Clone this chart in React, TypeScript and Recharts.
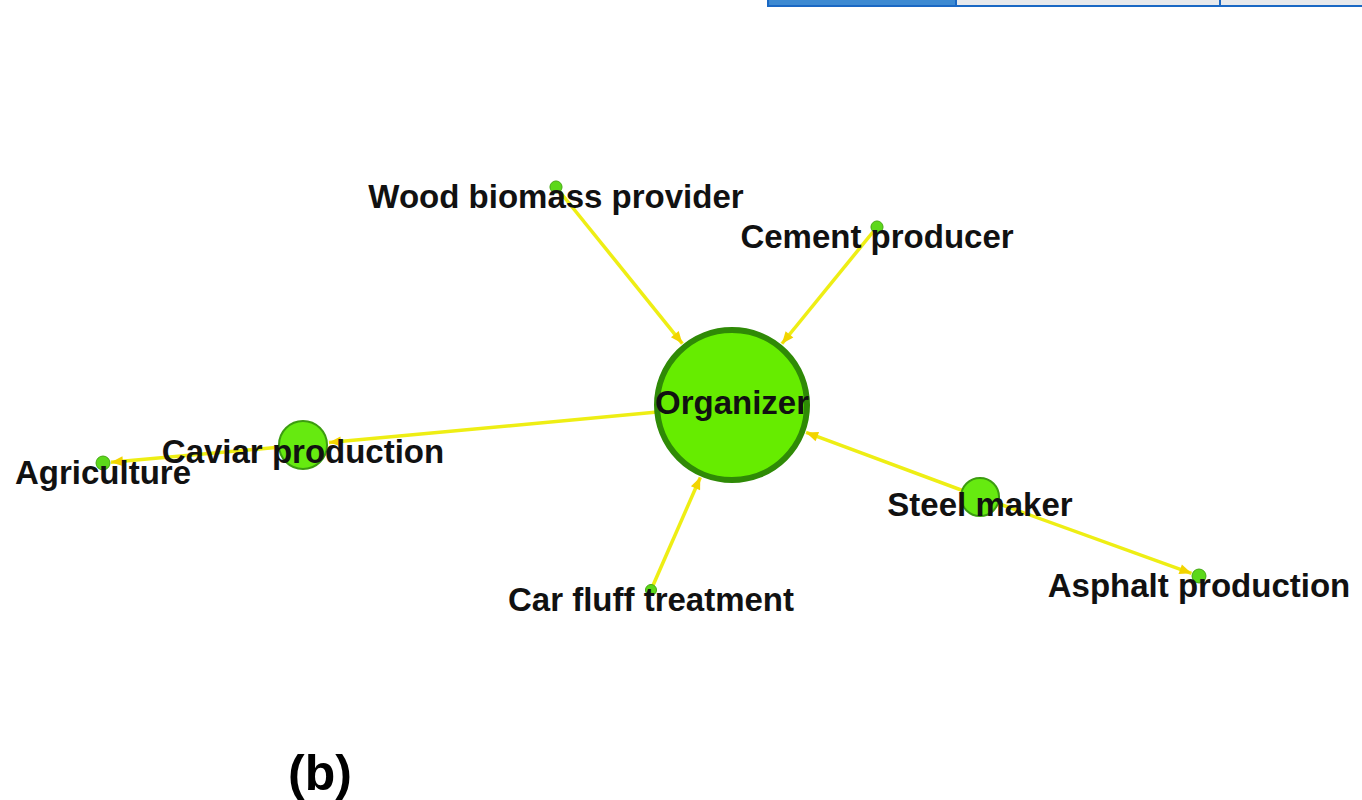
import { ScatterChart, Scatter, XAxis, YAxis, ZAxis, ReferenceLine } from "recharts";

// network layout (layout units = pixels of the original figure)
const nodeNames = [
  "Organizer",
  "Wood biomass provider",
  "Cement producer",
  "Caviar production",
  "Agriculture",
  "Car fluff treatment",
  "Steel maker",
  "Asphalt production",
];
const nodeX = [732, 556, 877, 303, 103, 651, 980, 1199];
const nodeY = [405, 187, 227, 445, 463, 590, 497, 576];
const nodeWeight = [100, 0.6, 0.6, 10.3, 0.8, 0.5, 6.6, 0.8];

const edgeFrom = [
  "Wood biomass provider",
  "Cement producer",
  "Organizer",
  "Caviar production",
  "Car fluff treatment",
  "Steel maker",
  "Steel maker",
];
const edgeTo = [
  "Organizer",
  "Organizer",
  "Caviar production",
  "Agriculture",
  "Organizer",
  "Organizer",
  "Asphalt production",
];

const Z_DOMAIN: [number, number] = [0, 100];
const Z_RANGE: [number, number] = [0, 19113];

const nodes = nodeNames.map((name, i) => ({ name, x: nodeX[i], y: nodeY[i], weight: nodeWeight[i] }));
const byName = (n: string) => nodes[nodeNames.indexOf(n)];

// same mapping as the ZAxis (area -> radius), used to stop arrows at the node rim
const radiusOf = (w: number) => {
  const area = Z_RANGE[0] + ((w - Z_DOMAIN[0]) / (Z_DOMAIN[1] - Z_DOMAIN[0])) * (Z_RANGE[1] - Z_RANGE[0]);
  return Math.sqrt(area / Math.PI);
};

const makeEdge = (gap: number) => (props: any) => {
  const { x1, y1, x2, y2 } = props;
  const dx = x2 - x1;
  const dy = y2 - y1;
  const len = Math.hypot(dx, dy) || 1;
  const ux = dx / len;
  const uy = dy / len;
  const tx = x2 - ux * gap;
  const ty = y2 - uy * gap;
  const bx = tx - ux * 12;
  const by = ty - uy * 12;
  const px = -uy * 5;
  const py = ux * 5;
  return (
    <g>
      <line x1={x1} y1={y1} x2={tx} y2={ty} stroke="#eeee14" strokeWidth={3.5} />
      <polygon
        points={`${tx},${ty} ${bx + px},${by + py} ${bx - px},${by - py}`}
        fill="#f2d400"
      />
    </g>
  );
};

const NodeShape = (props: any) => {
  const { cx, cy, size, width } = props;
  const r = width ? width / 2 : Math.sqrt((size || 0) / Math.PI);
  if (r > 40) {
    return <circle cx={cx} cy={cy} r={r - 3} fill="#66ec00" stroke="#2f8a06" strokeWidth={6} />;
  }
  if (r > 12) {
    return <circle cx={cx} cy={cy} r={r - 1} fill="#66ea10" stroke="#3c9c10" strokeWidth={2} />;
  }
  return <circle cx={cx} cy={cy} r={r} fill="#5cd81a" stroke="#45a812" strokeWidth={1} />;
};

const LabelShape = (props: any) => {
  const { cx, cy, size, width, payload } = props;
  const r = width ? width / 2 : Math.sqrt((size || 0) / Math.PI);
  return (
    <text
      x={cx}
      y={cy + 22 - r * 0.17}
      textAnchor="middle"
      fontFamily="'Liberation Sans', Arial, sans-serif"
      fontWeight={700}
      fontSize={33}
      fill="#111111"
    >
      {payload.name}
    </text>
  );
};

export default function App() {
  return (
    <div style={{ position: "absolute", left: 0, top: 0, width: 1362, height: 800, background: "#ffffff" }}>
      <ScatterChart width={1362} height={800} margin={{ top: 0, right: 0, bottom: 0, left: 0 }}>
        <XAxis type="number" dataKey="x" domain={[0, 1362]} hide allowDataOverflow />
        <YAxis type="number" dataKey="y" domain={[0, 800]} reversed hide allowDataOverflow />
        <ZAxis type="number" dataKey="weight" domain={Z_DOMAIN} range={Z_RANGE} />
        {edgeFrom.map((f, i) => {
          const a = byName(f);
          const b = byName(edgeTo[i]);
          return (
            <ReferenceLine
              key={i}
              segment={[{ x: a.x, y: a.y }, { x: b.x, y: b.y }]}
              ifOverflow="visible"
              shape={makeEdge(radiusOf(b.weight) + 1)}
            />
          );
        })}
        <Scatter data={nodes} shape={NodeShape} isAnimationActive={false} />
        <Scatter data={nodes} shape={LabelShape} isAnimationActive={false} />
      </ScatterChart>

      <div
        style={{
          position: "absolute",
          left: 767,
          top: 0,
          width: 595,
          height: 7,
          display: "flex",
          boxSizing: "border-box",
          border: "2px solid #1a68c4",
          borderTop: "none",
          borderRight: "none",
        }}
      >
        <div style={{ width: 186, background: "#3d8ad2" }} />
        <div style={{ width: 262, background: "#e7e9ec", borderLeft: "2px solid #1a68c4" }} />
        <div style={{ flex: 1, background: "#e7e9ec", borderLeft: "2px solid #1a68c4" }} />
      </div>

      <div
        style={{
          position: "absolute",
          left: 288,
          top: 748,
          fontFamily: "'Liberation Sans', Arial, sans-serif",
          fontWeight: 700,
          fontSize: 50,
          lineHeight: "50px",
          color: "#000",
        }}
      >
        (b)
      </div>
    </div>
  );
}
